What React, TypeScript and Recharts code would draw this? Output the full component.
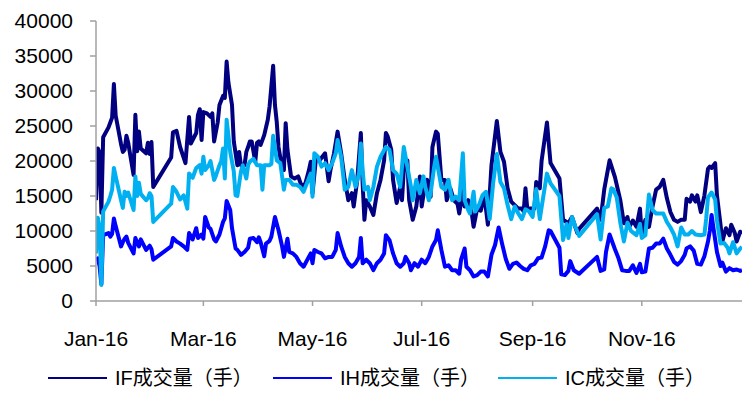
import React from 'react';
import { LineChart, Line, XAxis, YAxis, Legend } from 'recharts';

// x = calendar days after 4 Jan 2016
const ifDays = [0,1,2,3,4,7,8,9,10,11,14,15,16,17,18,21,22,23,24,25,28,29,30,31,32,42,43,45,47,50,52,53,56,57,58,59,60,62,64,65,66,68,69,71,72,73,74,76,77,79,80,81,83,84,85,86,87,89,90,91,92,94,96,97,99,100,101,102,103,105,106,107,109,111,113,115,117,119,120,121,123,125,128,130,131,133,135,137,139,141,143,144,146,148,149,150,151,153,155,157,159,161,162,163,165,166,168,170,171,172,174,175,177,179,181,182,184,185,187,188,190,191,193,195,196,198,200,202,203,205,206,208,210,211,213,215,217,219,221,224,226,228,230,232,234,236,238,239,240,241,243,245,246,248,249,252,254,259,261,264,266,269,270,280,282,284,287,290,293,295,297,298,300,302,304,305,307,309,311,313,315,317,319,321,323,325,327,329,330,332,333,335,336,338,340,342,343,344,346,347,349,350,352,354,355,357,358,360,361];
const ifVol = [14400,21800,21200,12600,23400,24800,25500,26200,31000,26500,22400,21300,21600,23600,22600,18000,26600,21400,24200,21800,21100,22600,21000,22700,16300,20500,24100,24300,22000,19700,26300,22500,24000,26600,27400,23000,27000,26800,26300,26800,22800,25500,28000,29300,29000,34200,31200,28000,22800,19400,21300,19400,19400,21300,22000,22800,22800,19900,22600,22800,22300,23700,25900,27800,33600,28000,25600,22000,20500,18700,25400,21600,17800,17500,17800,16300,16800,18700,19900,15400,20600,20100,21100,17100,18700,21100,24200,21100,17300,14400,15400,13500,17300,24000,16800,11600,14400,13500,12300,15400,17300,20100,24000,23500,21600,17300,14000,16300,14400,18700,20100,14400,11600,13500,17800,13500,16800,17300,14900,22000,24200,23900,17300,17300,14400,16100,14400,13900,12500,15800,13500,14400,12500,10600,13200,12900,15100,10900,19400,25700,21300,19900,16100,14200,13700,13200,13200,12800,16100,13200,13200,13200,17000,16100,20000,25500,19700,17500,11600,11100,12000,9700,10300,13200,11600,15900,20100,17700,14400,11100,12000,10600,11500,10600,13200,9400,11600,10600,13500,15900,16300,17300,14700,12700,11600,11300,11600,11600,14600,14200,15100,14200,15100,12700,15100,18900,19200,19000,19700,15100,10900,8500,10400,9400,10900,9700,8500,9900,9600];

const ihDays = [0,1,2,3,4,7,8,9,10,11,14,15,16,17,18,19,21,22,23,24,25,28,29,30,31,32,42,43,45,47,49,51,52,54,56,57,59,60,61,63,64,66,67,69,71,72,73,75,76,78,79,81,83,85,86,88,90,91,92,94,95,97,98,100,102,104,105,107,108,110,112,114,116,120,121,122,124,126,128,130,132,134,135,137,139,141,143,145,147,148,149,151,153,155,157,159,161,162,164,166,168,170,172,173,175,176,178,180,182,184,186,188,190,191,193,195,197,199,201,203,204,206,207,209,211,213,215,217,219,221,223,225,227,229,231,233,235,237,239,241,243,245,247,249,251,253,254,259,260,262,264,265,267,270,280,282,284,285,287,290,292,294,296,298,300,302,304,305,307,309,311,313,315,317,319,321,323,325,327,329,330,332,334,336,338,340,342,343,344,345,347,349,350,352,354,356,358,360,361];
const ihVol = [5900,6100,5000,2400,9400,9700,9200,9600,11800,10700,7800,8400,8900,9200,8300,7800,6800,9000,8400,7800,8800,7300,7600,7900,7400,5900,7800,9000,8500,8200,7800,7300,9700,8800,10400,9000,9500,8900,12000,10500,10300,8800,8500,9500,11300,11800,14300,13000,10400,7500,7300,6600,7000,7600,8900,9000,8400,9100,8400,6400,8200,8600,9200,12000,10100,7800,6300,8900,7000,6800,6300,5400,4900,6800,5400,7300,7000,6800,6100,6300,6300,7300,9700,7800,6300,5400,4900,5400,6300,9000,5400,5900,5400,4400,5400,5900,6800,9400,8700,6800,5400,4900,5400,6300,5400,4400,5400,4900,5900,5400,6300,7800,8700,10100,7300,4900,5100,4400,4400,3900,5900,7500,4900,4400,3500,3700,4200,4200,3500,6600,8000,10500,8100,6000,4600,5300,5500,5000,4600,4400,5100,5300,6100,6200,7800,10100,10000,7600,3800,3700,4300,5700,4400,3900,6300,4300,4500,7000,9500,7400,6100,4400,4300,4300,5100,4000,5300,4100,4200,7500,7600,8200,8200,8900,7500,6600,5600,5200,5700,6600,7500,7800,7200,5300,5200,6400,8500,10000,12300,10500,7000,5000,5500,4200,4700,4400,4500,4300,4400];

const icDays = [0,1,2,3,4,7,8,9,10,11,14,15,16,17,18,21,22,23,24,25,28,29,30,31,32,42,43,45,47,49,51,52,54,56,58,59,60,61,63,64,66,67,69,70,71,72,73,75,77,78,79,81,82,84,85,86,88,90,92,93,94,97,98,99,101,103,105,106,108,110,112,114,116,120,121,122,124,126,128,130,132,134,135,137,139,141,143,145,147,148,149,150,152,153,155,157,159,162,164,166,168,170,172,174,176,177,179,181,183,184,186,187,189,190,193,195,197,199,201,203,205,206,208,209,211,212,214,216,218,220,222,224,226,228,230,232,234,236,238,240,242,244,246,248,250,252,254,259,261,263,264,266,268,270,280,282,284,286,288,289,291,293,295,297,299,300,302,304,305,307,309,311,313,315,317,319,321,323,325,327,329,331,333,335,338,340,341,342,344,346,347,349,351,353,354,356,358,360,361];
const icVol = [6800,11900,10500,2300,12800,14200,15000,15900,19000,17800,14400,13300,15600,15000,15500,13000,17800,15000,16900,15300,14400,14700,15400,15000,11300,13900,16300,15600,14500,15100,13200,18200,17600,19000,19400,18200,20600,18700,19400,20000,17300,17900,19400,20000,21800,17500,25900,21300,18500,15100,15000,18500,19400,17500,19400,19900,20300,19400,19400,15900,19400,19400,19600,23600,20100,19700,15900,17300,17300,16600,16600,16300,15600,18200,14900,21100,20600,19200,19700,18700,19700,21100,23000,20600,15900,16300,18700,16300,18200,22500,18700,15900,16300,14400,16300,19200,20600,22000,21600,18700,18200,16300,22000,19200,16300,14400,17300,15400,17800,16300,14400,15400,19200,20600,16300,15900,17300,14400,14900,14400,21100,14400,13000,12500,15600,12800,13700,15100,15600,11700,17000,21000,17000,16100,13700,11700,13500,12500,11700,13100,12800,12000,16000,11700,15000,18200,16800,15000,8700,11000,9000,12000,10500,9300,12400,8800,13300,13500,16100,16000,14800,11200,8500,11200,10000,9800,9400,11000,9000,9400,15200,13000,12500,12500,12500,11300,10500,9500,7800,10500,9500,9500,10000,9500,9400,9500,11800,14800,15500,14500,11500,8200,8300,7600,6800,8400,6800,7500,7700];

const xTickDays = [0, 60, 121, 182, 244, 305];
const xTickLabels = ['Jan-16', 'Mar-16', 'May-16', 'Jul-16', 'Sep-16', 'Nov-16'];
const yTicks = [0, 5000, 10000, 15000, 20000, 25000, 30000, 35000, 40000];
const seriesNames = ['IF成交量（手）', 'IH成交量（手）', 'IC成交量（手）'];
const seriesColors = ['#000080', '#0000FF', '#00B0F0'];

const toPoints = (days: number[], vols: number[]) => days.map((d, i) => ({ d, v: vols[i] }));
const seriesData = [toPoints(ifDays, ifVol), toPoints(ihDays, ihVol), toPoints(icDays, icVol)];

const FONT = '"Liberation Sans", Arial, "Noto Sans CJK SC", sans-serif';
const AXIS = '#A0A0A0';

const renderLegend = () => (
  <div style={{ position: 'relative', width: 745, height: 37 }}>
    {seriesNames.map((name, i) => (
      <div
        key={name}
        style={{ position: 'absolute', left: 40 + i * 225, top: 4, height: 26, display: 'flex', alignItems: 'center' }}
      >
        <div style={{ width: 59, height: 2, background: seriesColors[i] }} />
        <span style={{ marginLeft: 8, fontSize: 20, fontFamily: FONT, color: '#000', whiteSpace: 'nowrap', lineHeight: '26px' }}>
          {name}
        </span>
      </div>
    ))}
  </div>
);

export default function App() {
  return (
    <div style={{ width: 745, height: 390 }}>
      <LineChart width={745} height={390} margin={{ top: 13, right: 11, bottom: 0, left: 0 }}>
        <XAxis
          dataKey="d"
          type="number"
          domain={[0, 361]}
          ticks={xTickDays}
          interval={0}
          tickFormatter={(d: number) => xTickLabels[xTickDays.indexOf(d)]}
          height={60}
          tickSize={5}
          tickMargin={25}
          axisLine={{ stroke: AXIS, strokeWidth: 1.5 }}
          tickLine={{ stroke: AXIS, strokeWidth: 1.5 }}
          tick={{ fontSize: 21, fill: '#000', fontFamily: FONT }}
          allowDataOverflow
        />
        <YAxis
          type="number"
          domain={[0, 40000]}
          ticks={yTicks}
          interval={0}
          width={88}
          tickSize={6}
          tickMargin={17}
          axisLine={{ stroke: AXIS, strokeWidth: 1.5 }}
          tickLine={{ stroke: AXIS, strokeWidth: 1.5 }}
          tick={{ fontSize: 21, fill: '#000', fontFamily: FONT }}
        />
        <Legend verticalAlign="bottom" content={renderLegend} wrapperStyle={{ left: 0, width: 745 }} />
        {seriesData.map((data, i) => (
          <Line
            key={seriesNames[i]}
            data={data}
            dataKey="v"
            name={seriesNames[i]}
            type="linear"
            stroke={seriesColors[i]}
            strokeWidth={4}
            strokeLinejoin="round"
            dot={false}
            activeDot={false}
            isAnimationActive={false}
          />
        ))}
      </LineChart>
    </div>
  );
}
